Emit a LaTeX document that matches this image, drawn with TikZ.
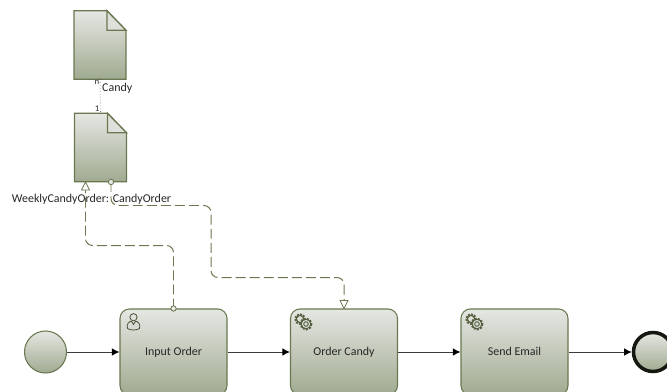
\documentclass[tikz,border=0pt]{standalone}
\usepackage{fontspec}
\setmainfont{Carlito}
\usepackage{tikz}
\usetikzlibrary{calc,positioning,arrows.meta}
\definecolor{bpmnLine}{RGB}{105,120,80}
\definecolor{bpmnTop}{RGB}{229,231,227}
\definecolor{bpmnBottom}{RGB}{160,170,144}
\definecolor{flowLine}{RGB}{60,60,60}
\tikzset{
  bpmnshade/.style={top color=bpmnTop,bottom color=bpmnBottom,draw=bpmnLine,line width=.9pt},
  task/.style={bpmnshade,rectangle,rounded corners=8,minimum width=107*.03cm,minimum height=86*.03cm,inner sep=0pt,font=\fontsize{10.2}{11}\selectfont,text=black!85,text height=8pt,text depth=1.5pt},
  event/.style={bpmnshade,circle,minimum size=42*.03cm,inner sep=0pt},
  docbox/.style={rectangle,minimum width=52*.03cm,minimum height=68.5*.03cm,inner sep=0pt,outer sep=0pt},
  flow/.style={draw=flowLine,line width=.8pt,-{Latex[length=6.5pt,width=6.5pt,black]}},
  assoc/.style={draw=bpmnLine,line width=.85pt,dash pattern=on 8.5pt off 3.5pt,rounded corners=6},
  tag/.style={inner sep=0pt,font=\fontsize{10.2}{11}\selectfont,text=black!85},
  smalltag/.style={inner sep=0pt,font=\fontsize{7.5}{8}\selectfont,text=black!85}
}
\begin{document}
\begin{tikzpicture}[x=.03cm,y=-.03cm]

  \clip (0,0) rectangle (667,392);

  % the two documents
  \node[docbox] (candy) at (100,45) {};
  \node[docbox] (weekly) at (100.5,147.5) {};
  \foreach \doc in {candy,weekly}
  {
    \shade[bpmnshade] (\doc.north west) -- ($(\doc.north east)+(-19,0)$) -- ($(\doc.north east)+(0,19.5)$) -- (\doc.south east) -- (\doc.south west) -- cycle;
    \filldraw[fill=bpmnTop!90!bpmnBottom,draw=bpmnLine,line width=1.1pt,line join=miter] ($(\doc.north east)+(-19,0)$) -- ($(\doc.north east)+(-19,19.5)$) -- ($(\doc.north east)+(0,19.5)$) -- cycle;
  }
  \draw[dotted,draw=flowLine,line width=.5pt] (candy.south) -- (weekly.north);

  % labels of the documents
  \node[smalltag] (nTag) at (97,82) {n};
  \node[smalltag] (oneTag) at (97,109) {1};
  \node[tag,anchor=west] (candyTag) at (102,88) {Candy};
  \node[tag] (weeklyTag) at (91.5,199) {WeeklyCandyOrder: CandyOrder};

  % the process
  \node[event] (start) at (45.5,352) {};
  \node[task] (input) at (173.5,352) {Input Order};
  \node[task] (order) at (344,352) {Order Candy};
  \node[task] (send) at (514.5,352) {Send Email};
  \node[event,draw=black!80!bpmnLine,line width=3pt,minimum size=39*.03cm] (end) at (653,352) {};

  \draw[flow] (start) -- (input);
  \draw[flow] (input) -- (order);
  \draw[flow] (order) -- (send);
  \draw[flow] (send) -- (end);

  % the data associations
  \coordinate (weeklyIn) at (85.5,182);
  \coordinate (weeklyOut) at (111,182);
  \coordinate (inputCorner) at (173.5,245.5);
  \draw[assoc] (input.north) -- (inputCorner) -- (85.5,245.5) -- (85.5,190);
  \draw[draw=bpmnLine,line width=.7pt,fill=white] (weeklyIn) -- ++(-4,8) -- ++(8,0) -- cycle;
  \draw[assoc] (weeklyOut) -- (111,205.5) -- (211,205.5) -- (211,277.5) -- (344,277.5) -- (344,301);
  \draw[draw=bpmnLine,line width=.7pt,fill=white] (order.north) -- ++(-4,-8) -- ++(8,0) -- cycle;
  \filldraw[draw=bpmnLine,line width=.7pt,fill=bpmnTop] (weeklyOut) circle [radius=2.7];
  \filldraw[draw=bpmnLine,line width=.7pt,fill=bpmnTop] (input.north) circle [radius=2.7];

  % user icon
  \begin{scope}[shift={(133.5,322)},draw=bpmnLine!70!black,line width=.7pt]
    \draw (0,-4.8) circle [radius=3.6];
    \draw (-6,6.5) .. controls (-7.5,2) and (-4,-.8) .. (-2,-.8) -- (0,2.5) -- (2,-.8) .. controls (4,-.8) and (7.5,2) .. (6,6.5) .. controls (3,8.5) and (-3,8.5) .. (-6,6.5);
  \end{scope}

  % gear icons
  \foreach \gearX/\gearY in {300/319,471/319}
  {
    \begin{scope}[shift={(\gearX,\gearY)},bpmnLine!80!black]
      \draw[line width=1pt] (0,0) circle [radius=3.6];
      \draw[line width=1.7pt,dash pattern=on 1.6pt off 1.1pt] (0,0) circle [radius=4.8];
      \draw[line width=.8pt,fill=bpmnTop!85!bpmnBottom] (6,5) circle [radius=4.8];
      \draw[line width=1.7pt,dash pattern=on 1.6pt off 1.2pt] (6,5) circle [radius=5.5];
      \draw[line width=.8pt] (6,5) circle [radius=2.3];
    \end{scope}
  }

\end{tikzpicture}
\end{document}
